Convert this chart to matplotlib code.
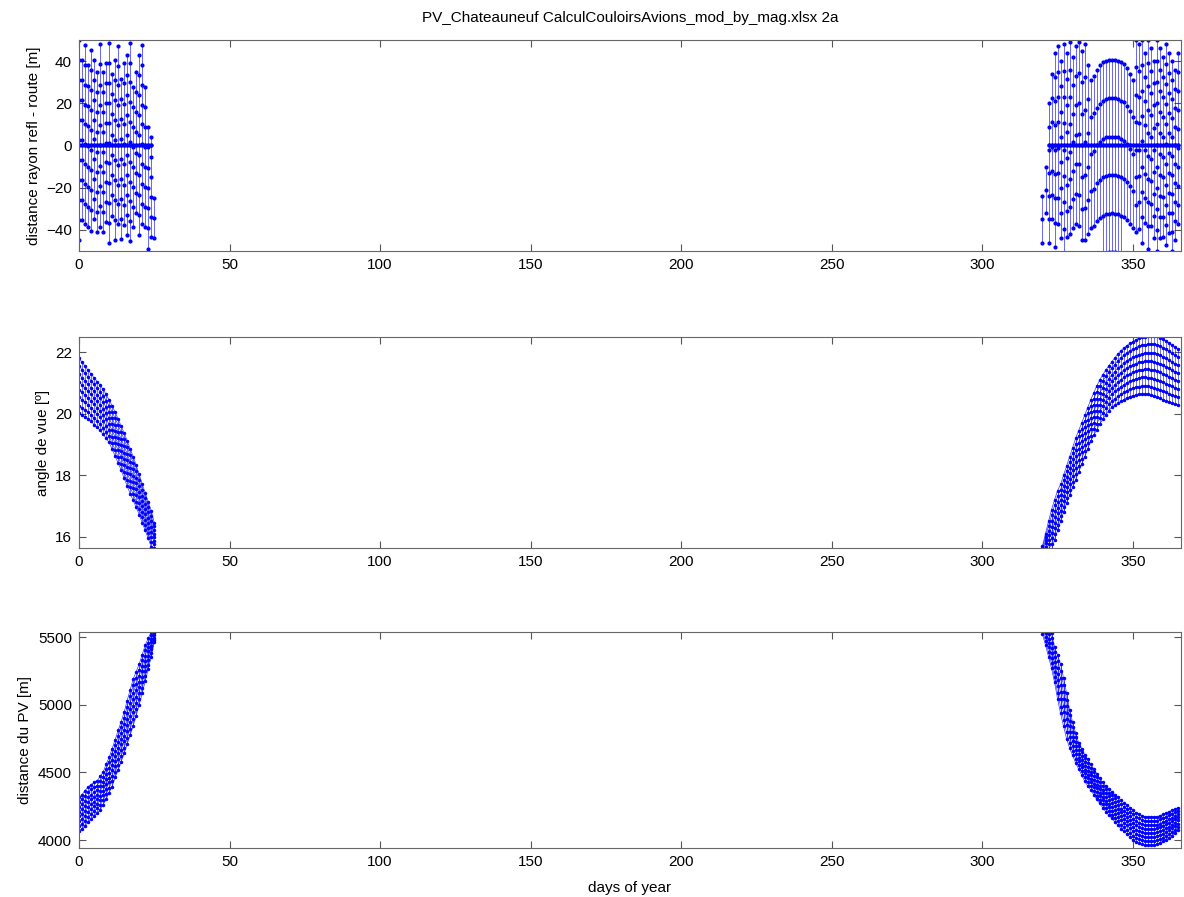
import matplotlib.pyplot as plt
import numpy as np

plt.rcParams['font.family'] = ['Liberation Sans', 'DejaVu Sans']

title = 'PV_Chateauneuf CalculCouloirsAvions_mod_by_mag.xlsx 2a'

days_left = list(range(0, 26))
days_right = list(range(320, 366))

# top 1: distance rayon refl - route [m] -> per day: top / bottom of the day's line and dot spacing
refl_top_left = [50, 40.5, 47.6, 38, 45.2, 40.5, 35, 48, 35, 39, 48.7, 34, 40.5,
                 47.3, 31.7, 39, 42.9, 48.7, 27.8, 35, 42.9, 47.6, 27.8, 8.7, 4, -25]
refl_bot_left = [-48, -44, -40, -47, -43, -38, -46, -42, -48, -44, -52, -40, -46,
                 -42, -52, -38, -45, -48, -42, -36, -48, -44, -40, -52, -52, -48]
refl_step_left = [9.5, 9.5, 9.4, 9.6, 9.5, 9.4, 9.5, 9.6, 9.5, 9.4, 9.5, 9.6, 9.5,
                  9.4, 9.5, 9.6, 9.5, 9.4, 9.5, 9.6, 9.5, 9.4, 9.5, 9.6, 9.5, 9.5]

refl_top_right = [-24, -10, 20, 34, 44, 47, 40, 48, 44, 49, 42, 47, 49, 45, 48, 38,
                  31, 33, 36, 38, 39.5, 40.2, 40.5, 40.6, 40.5, 40.2, 39.5, 38.5, 36.5, 34, 31,
                  50, 48, 50, 44, 50, 46, 40, 50, 46, 42, 48, 44, 40, 36, 44]
refl_bot_right = [-46, -42, -48, -44, -50, -42, -47, -52, -45, -48, -52, -46, -50, -52, -47, -52,
                  -52, -52, -52, -52, -52, -52, -52, -52, -52, -52, -52, -52, -52, -52, -52,
                  -52, -47, -50, -45, -52, -48, -44, -50, -46, -52, -48, -45, -50, -47, -44]
refl_step_right = [11, 11, 11, 11.5, 11.5, 12, 12, 12.5, 12.5, 13, 13.5, 14, 14.5, 15, 15.5, 16,
                   17.5, 17.8, 18, 18.1, 18.2, 18.2, 18.2, 18.2, 18.2, 18.2, 18.2, 18.1, 18, 17.8, 17.5,
                   13, 12.5, 12, 11.5, 11, 10.5, 10.5, 10, 10, 9.5, 9.5, 9.5, 9, 9, 9]

# middle: angle de vue -> band limits of each day
angle_hi_left = [21.8, 21.68, 21.55, 21.42, 21.3, 21.17, 21.05, 20.93, 20.8, 20.63, 20.45,
                 20.26, 20.05, 19.83, 19.6, 19.37, 19.12, 18.86, 18.6, 18.32, 18.03, 17.7,
                 17.43, 17.13, 16.84, 16.45]
angle_lo_left = [20.02, 19.96, 19.9, 19.83, 19.75, 19.65, 19.56, 19.46, 19.33, 19.2, 19.07,
                 18.85, 18.63, 18.4, 18.17, 17.9, 17.65, 17.4, 17.18, 16.95, 16.72, 16.45,
                 16.2, 15.95, 15.65, 15.63]
angle_hi_right = [15.7, 16.1, 16.5, 16.88, 17.2, 17.5, 17.7, 18.0, 18.3, 18.6, 18.9,
                  19.2, 19.45, 19.7, 19.95, 20.2, 20.45, 20.68, 20.9, 21.1, 21.27, 21.42, 21.56,
                  21.69, 21.82, 21.94, 22.05, 22.14, 22.22, 22.29, 22.35, 22.41, 22.46, 22.49,
                  22.51, 22.53, 22.54, 22.54, 22.52, 22.48, 22.43, 22.37, 22.3, 22.23, 22.16, 22.1]
angle_lo_right = [15.2, 15.35, 15.45, 15.56, 15.9, 16.2, 16.5, 16.8, 17.1, 17.35, 17.6,
                  17.85, 18.1, 18.35, 18.6, 18.85, 19.1, 19.3, 19.48, 19.66, 19.82, 19.97, 20.1,
                  20.21, 20.28, 20.34, 20.4, 20.46, 20.52, 20.56, 20.59, 20.61, 20.63, 20.65,
                  20.65, 20.63, 20.6, 20.57, 20.54, 20.5, 20.46, 20.42, 20.38, 20.35, 20.32, 20.3]

# bottom: distance du PV [m]
dist_hi_left = [4315, 4335, 4365, 4392, 4410, 4425, 4435, 4470, 4500, 4560, 4610, 4675, 4740,
                4810, 4875, 4945, 5030, 5110, 5190, 5245, 5300, 5370, 5440, 5490, 5540, 5580]
dist_lo_left = [4070, 4085, 4105, 4132, 4155, 4178, 4200, 4222, 4260, 4300, 4350, 4395, 4465,
                4515, 4580, 4640, 4710, 4775, 4845, 4920, 5000, 5085, 5175, 5265, 5355, 5460]
dist_hi_right = [5700, 5650, 5590, 5530, 5425, 5365, 5300, 5195, 5085, 4960, 4870, 4790, 4720,
                 4675, 4630, 4595, 4560, 4527, 4490, 4455, 4425, 4400, 4378, 4357, 4336, 4315,
                 4293, 4275, 4260, 4240, 4222, 4200, 4190, 4180, 4173, 4172, 4172, 4172, 4172,
                 4180, 4190, 4200, 4210, 4220, 4230, 4239]
dist_lo_right = [5520, 5440, 5355, 5269, 5165, 5045, 4935, 4840, 4750, 4680, 4625, 4570, 4525,
                 4480, 4435, 4400, 4370, 4335, 4300, 4270, 4240, 4210, 4185, 4160, 4135, 4110,
                 4085, 4065, 4045, 4025, 4000, 3985, 3975, 3968, 3963, 3963, 3963, 3963, 3970,
                 3980, 3990, 4002, 4015, 4030, 4050, 4074]

# position of the samples of one day inside the band
sample_pos = [0.0, 0.14, 0.29, 0.43, 0.57, 0.71, 0.86, 1.0]

blue = (0, 0, 1)


def style(ax, ylim, yticks):
    ax.set_xlim(0, 366)
    ax.set_ylim(*ylim)
    ax.set_xticks(range(0, 351, 50))
    ax.set_yticks(yticks)
    ax.tick_params(direction='in', top=True, right=True, length=5, width=0.8,
                   color='#555555', labelsize=11, pad=5)
    for sp in ax.spines.values():
        sp.set_color('#666666')
        sp.set_linewidth(0.8)


def refl_plot(ax, days, tops, bots, steps):
    zero_days = []
    for d, top, bot, s in zip(days, tops, bots, steps):
        vals = []
        y = top
        while y >= bot:
            vals.append(y)
            y -= s
        if bot <= 0 <= top:
            vals.append(0)
            zero_days.append(d)
        vals = sorted(vals, reverse=True)
        ax.plot([d] * len(vals), vals, '-', color=blue, lw=0.6, alpha=0.7)
        ax.plot([d] * len(vals), vals, '.', color=blue, ms=4)
    ax.plot(zero_days, [0] * len(zero_days), '.-', color=blue, lw=1.2, ms=4)


def band_plot(ax, days, lo, hi):
    lo = np.array(lo, dtype=float)
    hi = np.array(hi, dtype=float)
    pos = np.array(sample_pos)
    m = lo[:, None] + (hi - lo)[:, None] * pos[None, :]
    d = np.array(days, dtype=float)
    ax.plot(d, m, '-', color=blue, lw=0.5, alpha=0.8)
    ax.plot(np.tile(d, (len(pos), 1)), m.T, '-', color=blue, lw=0.5, alpha=0.8)
    ax.plot(d, m, '.', color=blue, ms=3)


fig = plt.figure(figsize=(11.84, 8.97), dpi=100)
left = 79 / 1184
width = 1102 / 1184

ax1 = fig.add_axes([left, 1 - 251 / 897, width, 211 / 897])
refl_plot(ax1, days_left, refl_top_left, refl_bot_left, refl_step_left)
refl_plot(ax1, days_right, refl_top_right, refl_bot_right, refl_step_right)
style(ax1, (-50, 50), [-40, -20, 0, 20, 40])
ax1.set_ylabel('distance rayon refl - route [m]', fontsize=11)
ax1.set_title(title, fontsize=11, pad=13)

ax2 = fig.add_axes([left, 1 - 548 / 897, width, 211 / 897])
band_plot(ax2, days_left, angle_lo_left, angle_hi_left)
band_plot(ax2, days_right, angle_lo_right, angle_hi_right)
style(ax2, (15.63, 22.5), [16, 18, 20, 22])
ax2.set_ylabel('angle de vue [º]', fontsize=11)

ax3 = fig.add_axes([left, 1 - 848 / 897, width, 216 / 897])
band_plot(ax3, days_left, dist_lo_left, dist_hi_left)
band_plot(ax3, days_right, dist_lo_right, dist_hi_right)
style(ax3, (3941, 5537), [4000, 4500, 5000, 5500])
ax3.set_ylabel('distance du PV [m]', fontsize=11)
ax3.set_xlabel('days of year', fontsize=11, labelpad=9)

fig.savefig('out.png', dpi=100)
